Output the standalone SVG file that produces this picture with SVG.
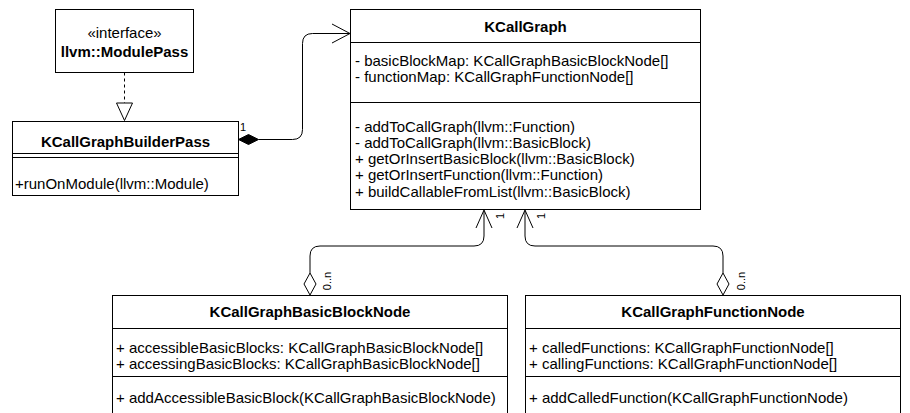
<svg xmlns="http://www.w3.org/2000/svg" width="910" height="413" viewBox="0 0 910 413">
  <style>
    .box { fill: #ffffff; stroke: #000000; stroke-width: 1; }
    .sep { stroke: #000000; stroke-width: 1; fill: none; }
    text { font-family: "Liberation Sans", Arial, Helvetica, sans-serif; fill: #000000; }
    .t { font-size: 15px; }
    .b { font-size: 15px; font-weight: bold; text-anchor: middle; }
    .lbl { font-size: 11px; }
    .edge { fill: none; stroke: #000000; stroke-width: 1; }
  </style>
  <rect x="0" y="0" width="910" height="413" fill="#ffffff"/>

  <g id="module-pass">
    <rect class="box" x="55.5" y="9.5" width="138" height="63"/>
    <text class="t" x="124.5" y="38" text-anchor="middle">«interface»</text>
    <text class="b" x="124.5" y="57">llvm::ModulePass</text>
  </g>

  <g id="builder-pass">
    <rect class="box" x="12.5" y="121.5" width="226" height="74"/>
    <line class="sep" x1="12.5" y1="153.5" x2="238.5" y2="153.5"/>
    <line class="sep" x1="12.5" y1="157.5" x2="238.5" y2="157.5"/>
    <text class="b" x="125.5" y="147">KCallGraphBuilderPass</text>
    <text class="t" x="15" y="189">+runOnModule(llvm::Module)</text>
  </g>

  <g id="call-graph">
    <rect class="box" x="350.5" y="9.5" width="350" height="200"/>
    <line class="sep" x1="350.5" y1="42.5" x2="700.5" y2="42.5"/>
    <line class="sep" x1="350.5" y1="102.5" x2="700.5" y2="102.5"/>
    <text class="b" x="525.5" y="31.5">KCallGraph</text>
    <text class="t" x="355" y="65.5">- basicBlockMap: KCallGraphBasicBlockNode[]</text>
    <text class="t" x="355" y="82">- functionMap: KCallGraphFunctionNode[]</text>
    <text class="t" x="355" y="131.5">- addToCallGraph(llvm::Function)</text>
    <text class="t" x="355" y="147.8">- addToCallGraph(llvm::BasicBlock)</text>
    <text class="t" x="355" y="164.1">+ getOrInsertBasicBlock(llvm::BasicBlock)</text>
    <text class="t" x="355" y="180.4">+ getOrInsertFunction(llvm::Function)</text>
    <text class="t" x="355" y="196.7">+ buildCallableFromList(llvm::BasicBlock)</text>
  </g>

  <g id="basic-block-node">
    <rect class="box" x="112.5" y="295.5" width="395" height="130"/>
    <line class="sep" x1="112.5" y1="328.5" x2="507.5" y2="328.5"/>
    <line class="sep" x1="112.5" y1="376.5" x2="507.5" y2="376.5"/>
    <text class="b" x="310" y="317">KCallGraphBasicBlockNode</text>
    <text class="t" x="116" y="352.5">+ accessibleBasicBlocks: KCallGraphBasicBlockNode[]</text>
    <text class="t" x="116" y="369">+ accessingBasicBlocks: KCallGraphBasicBlockNode[]</text>
    <text class="t" x="116" y="402.5">+ addAccessibleBasicBlock(KCallGraphBasicBlockNode)</text>
  </g>

  <g id="function-node">
    <rect class="box" x="525.5" y="295.5" width="375" height="130"/>
    <line class="sep" x1="525.5" y1="328.5" x2="900.5" y2="328.5"/>
    <line class="sep" x1="525.5" y1="376.5" x2="900.5" y2="376.5"/>
    <text class="b" x="713" y="317">KCallGraphFunctionNode</text>
    <text class="t" x="529" y="352.5">+ calledFunctions: KCallGraphFunctionNode[]</text>
    <text class="t" x="529" y="369">+ callingFunctions: KCallGraphFunctionNode[]</text>
    <text class="t" x="529" y="402.5">+ addCalledFunction(KCallGraphFunctionNode)</text>
  </g>

  <g id="connectors">
    <!-- realization: builder pass implements ModulePass -->
    <path class="edge" d="M124.5,72.5 V103" stroke-dasharray="3 3"/>
    <polygon class="box" points="124.5,120.5 116.5,103 132.5,103"/>

    <!-- composition: builder pass owns the call graph -->
    <path class="edge" d="M258.5,139.5 H292.5 Q302.5,139.5 302.5,129.5 V43.5 Q302.5,33.5 312.5,33.5 H349.5"/>
    <polyline class="edge" points="332,24 350,33.5 332,43"/>
    <polygon points="238.5,139.5 248.5,134.5 258.5,139.5 248.5,144.5" fill="#000000" stroke="#000000"/>
    <text class="lbl" x="240" y="131">1</text>

    <!-- aggregation: basic block nodes -->
    <path class="edge" d="M310,273 V256 Q310,246 320,246 H474 Q484,246 484,236 V211"/>
    <polyline class="edge" points="476,228 484,210 492,228"/>
    <polygon class="box" points="310,295 316,284 310,273 304,284"/>
    <text class="lbl" transform="translate(500,216) rotate(-90)" text-anchor="middle" dominant-baseline="central">1</text>
    <text class="lbl" transform="translate(327,281) rotate(-90)" text-anchor="middle" dominant-baseline="central">0..n</text>

    <!-- aggregation: function nodes -->
    <path class="edge" d="M723,273 V256 Q723,246 713,246 H535 Q525,246 525,236 V211"/>
    <polyline class="edge" points="517,228 525,210 533,228"/>
    <polygon class="box" points="723,295 729,284 723,273 717,284"/>
    <text class="lbl" transform="translate(541,216) rotate(-90)" text-anchor="middle" dominant-baseline="central">1</text>
    <text class="lbl" transform="translate(741,281) rotate(-90)" text-anchor="middle" dominant-baseline="central">0..n</text>
  </g>
</svg>
